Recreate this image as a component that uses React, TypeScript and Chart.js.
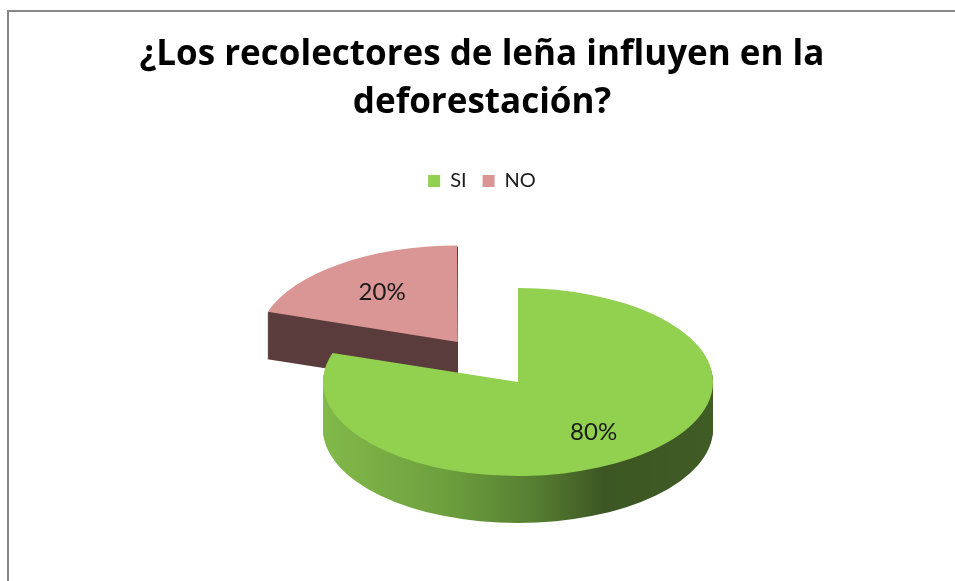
import { useEffect, useRef } from 'react';
import { Chart, registerables } from 'chart.js';

Chart.register(...registerables);

// ---- data ----
const TITLE_LINES = ['¿Los recolectores de leña influyen en la', 'deforestación?'];
const CATEGORIES = ['SI', 'NO'];
const VALUES = [80, 20];

// ---- styles ----
const TOP_COLORS = ['#92d050', '#d99694'];
const SIDE_STOPS: [number, string][][] = [
  [
    [0, '#82b94a'],
    [0.3, '#6ea13e'],
    [0.55, '#557d31'],
    [0.72, '#3d5623'],
    [1, '#405c25'],
  ],
  [
    [0, '#5b3c3d'],
    [1, '#5b3c3d'],
  ],
];
const EXPLODE = [0, 410]; // chart.js arc offset (px / 4 in v4)
const RADIUS = 195;
const SQUASH = 0.482;
const DEPTH = 47;
const SHIFT_X = 36;
const LABEL_FRACTION = 0.66;

function arcOffset(arc: any) {
  const off = (arc.options.offset || 0) / 4;
  const mid = (arc.startAngle + arc.endAngle) / 2;
  const circ = arc.endAngle - arc.startAngle;
  const fix = 1 - Math.sin(Math.min(Math.PI, circ || 0));
  return { off, mid, ox: Math.cos(mid) * off, oy: Math.sin(mid) * off, rAdd: off * fix };
}

const pie3d = {
  id: 'pie3d',
  beforeDatasetsDraw(chart: any) {
    const meta = chart.getDatasetMeta(0);
    const arcs = meta.data;
    const ctx = chart.ctx;
    ctx.save();
    if (!arcs.length) return;
    const cx = arcs[0].x;
    const cy = arcs[0].y;
    ctx.translate(cx + SHIFT_X, cy);
    ctx.scale(1, SQUASH);
    ctx.translate(-cx, -cy);
    const items = arcs
      .map((arc: any, i: number) => ({ arc, i, ...arcOffset(arc) }))
      .sort((a: any, b: any) => a.oy - b.oy);
    for (const it of items) {
      const { arc } = it;
      const r = arc.outerRadius + it.rAdd;
      const x = cx + it.ox;
      if (!isFinite(r) || !isFinite(x)) continue;
      const grad = ctx.createLinearGradient(x - r, 0, x + r, 0);
      SIDE_STOPS[it.i].forEach(([p, c]) => grad.addColorStop(p, c));
      ctx.fillStyle = grad;
      for (let k = DEPTH; k >= 1; k -= 1) {
        const y = cy + it.oy + k / SQUASH;
        ctx.beginPath();
        ctx.moveTo(x, y);
        ctx.arc(x, y, r, arc.startAngle, arc.endAngle);
        ctx.closePath();
        ctx.fill();
      }
    }
  },
  afterDatasetsDraw(chart: any) {
    const ctx = chart.ctx;
    ctx.restore();
    const meta = chart.getDatasetMeta(0);
    const arcs = meta.data;
    if (!arcs.length) return;
    const cx = arcs[0].x;
    const cy = arcs[0].y;
    const total = VALUES.reduce((a, b) => a + b, 0);
    ctx.save();
    ctx.font = '24px Lato';
    ctx.fillStyle = '#1a1a1a';
    ctx.textAlign = 'center';
    ctx.textBaseline = 'middle';
    arcs.forEach((arc: any, i: number) => {
      const { off, mid } = arcOffset(arc);
      const d = off + arc.outerRadius * LABEL_FRACTION;
      const px = cx + SHIFT_X + Math.cos(mid) * d;
      const py = cy + Math.sin(mid) * d * SQUASH;
      ctx.fillText(`${Math.round((VALUES[i] / total) * 100)}%`, px, py);
    });
    ctx.restore();
  },
};

export default function App() {
  const ref = useRef<HTMLCanvasElement | null>(null);
  useEffect(() => {
    if (!ref.current) return;
    const chart = new Chart(ref.current, {
      type: 'pie',
      data: {
        labels: CATEGORIES,
        datasets: [
          {
            data: VALUES,
            backgroundColor: TOP_COLORS,
            borderWidth: 0,
            offset: EXPLODE,
            hoverOffset: 0,
            radius: RADIUS,
            cutout: '0%',
            clip: false,
          } as any,
        ],
      },
      options: {
        responsive: false,
        animation: false,
        events: [],
        cutout: '0%',
        radius: RADIUS,
        layout: { padding: { left: 9, right: 0, top: 0, bottom: 18 } },
        plugins: {
          title: {
            display: true,
            text: TITLE_LINES,
            color: '#000',
            font: { family: '"Open Sans"', size: 35, weight: 'bold', lineHeight: 48 / 35 },
            padding: { top: 31, bottom: 28 },
          },
          legend: {
            position: 'top',
            labels: {
              boxWidth: 12,
              boxHeight: 12,
              padding: 16,
              color: '#1a1a1a',
              font: { family: 'Lato', size: 20 },
            },
          },
          tooltip: { enabled: false },
        },
      } as any,
      plugins: [pie3d],
    });
    return () => chart.destroy();
  }, []);

  return (
    <div
      style={{
        position: 'fixed',
        left: 0,
        top: 0,
        width: 955,
        height: 581,
        overflow: 'hidden',
        background: '#fff',
      }}
    >
      <div
        style={{
          position: 'absolute',
          left: 7,
          top: 10,
          width: 1000,
          height: 700,
          borderLeft: '2px solid #878787',
          borderTop: '2px solid #878787',
        }}
      />
      <canvas
        ref={ref}
        width={955}
        height={581}
        style={{ position: 'absolute', left: 0, top: 0 }}
      />
    </div>
  );
}
